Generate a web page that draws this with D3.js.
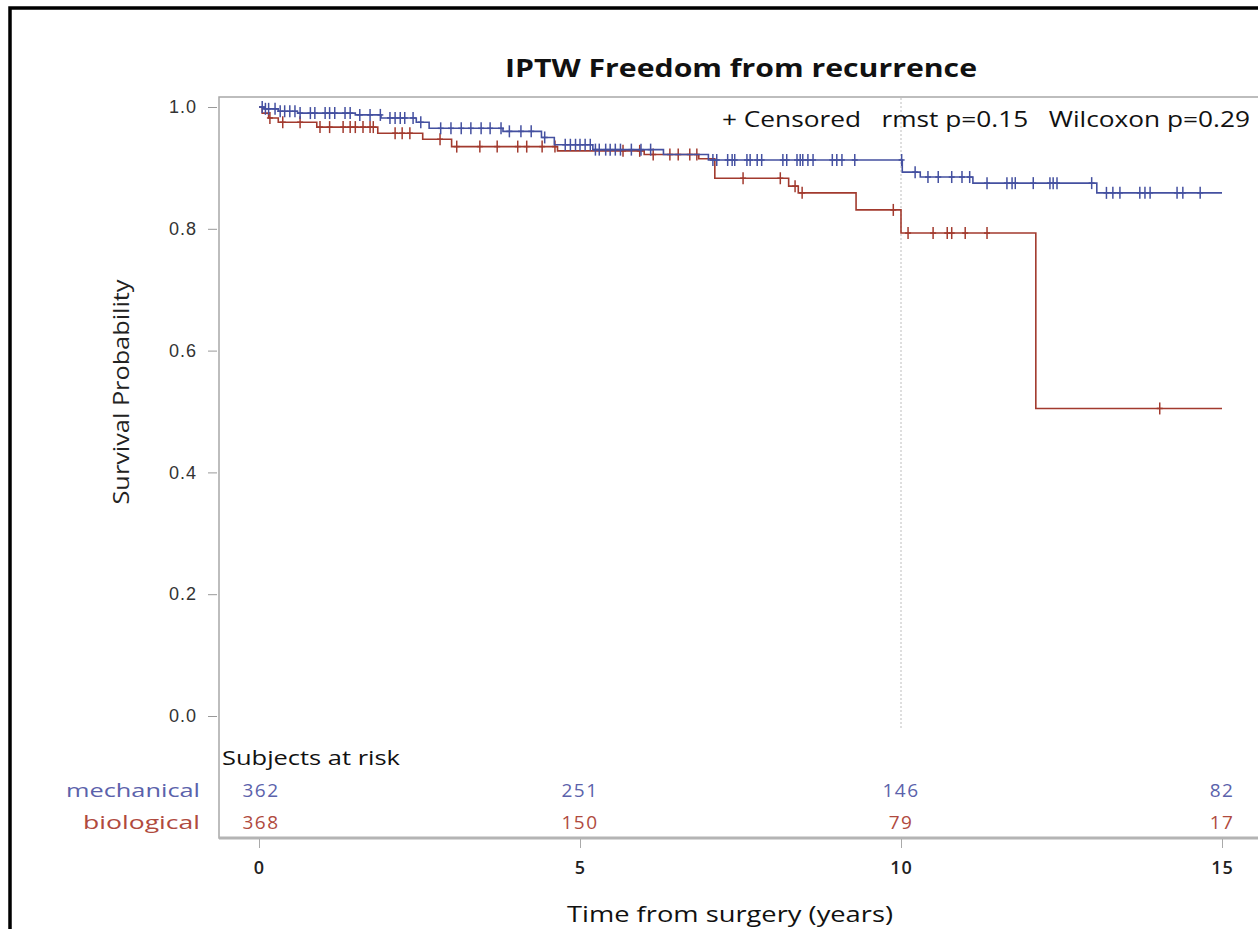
<!DOCTYPE html>
<html><head><meta charset="utf-8">
<script src="https://cdn.jsdelivr.net/npm/d3@7"></script>
<style>body{margin:0;background:#fff}svg{display:block}</style>
</head><body><svg id="c" width="1258" height="929"></svg>
<script>
// ---------- data ----------
const groups = ["mechanical", "biological"];
const xTicks = [0, 5, 10, 15];
const yTicks = [0.0, 0.2, 0.4, 0.6, 0.8, 1.0];
const atRiskMechanical = [362, 251, 146, 82];
const atRiskBiological = [368, 150, 79, 17];

const mechTimes = [0, 0.08, 0.3, 0.6, 1.5, 1.9, 2.45, 2.65, 3.8, 4.4, 4.6, 5.2, 6.3, 7.0, 10.02, 10.3, 11.12, 13.05, 15];
const mechSurv  = [1.0, 0.997, 0.993, 0.99, 0.987, 0.982, 0.975, 0.965, 0.96, 0.95, 0.938, 0.93, 0.922, 0.913, 0.893, 0.885, 0.875, 0.859, 0.859];
const mechCensor = [0.05,0.1,0.15,0.25,0.33,0.4,0.48,0.56,0.64,0.8,0.87,1.03,1.1,1.18,1.34,1.42,1.57,1.73,1.89,2.04,2.12,2.2,2.27,2.4,2.52,2.83,2.99,3.15,3.3,3.46,3.6,3.77,3.9,4.08,4.24,4.45,4.77,4.85,4.93,5.0,5.08,5.16,5.24,5.3,5.4,5.47,5.55,5.63,5.8,5.95,6.1,
  7.07,7.13,7.3,7.37,7.41,7.6,7.65,7.76,7.83,8.16,8.22,8.38,8.43,8.47,8.55,8.63,8.93,9.0,9.08,9.28,
  10.01,10.22,10.42,10.58,10.79,10.95,11.07,11.34,11.65,11.73,11.78,12.06,12.32,12.37,12.43,12.97,13.2,13.3,13.41,13.72,13.8,13.88,14.3,14.39,14.66];

const bioTimes = [0, 0.05, 0.15, 0.3, 0.9, 1.85, 2.55, 3.0, 4.65, 6.0, 6.85, 7.1, 8.25, 8.4, 9.3, 10.0, 12.1, 15];
const bioSurv  = [1.0, 0.99, 0.982, 0.975, 0.967, 0.957, 0.947, 0.935, 0.928, 0.922, 0.915, 0.883, 0.87, 0.859, 0.831, 0.793, 0.505, 0.505];
const bioCensor = [0.17,0.37,0.64,0.95,1.1,1.31,1.42,1.5,1.62,1.73,1.78,2.12,2.23,2.35,2.82,3.08,3.44,3.71,4.03,4.17,4.41,4.61,5.67,5.93,6.14,6.4,6.53,6.71,6.82,7.54,8.12,8.35,8.46,9.88,10.11,10.5,10.72,10.79,11.0,11.34,14.03];

const colors = {mechanical: "#4450a0", biological: "#A23A2E"};
const textColors = {mechanical: "#5b62ab", biological: "#b04a3e"};

// ---------- layout ----------
const svg = d3.select("#c");
const frame = {left: 219, top: 97, right: 1263, bottom: 838};
const x = d3.scaleLinear().domain([0, 15]).range([259, 1222]);
const y = d3.scaleLinear().domain([0, 1]).range([716, 107]);
const font = "'Liberation Sans', Arial, sans-serif";
const font2 = "'Open Sans', 'DejaVu Sans', sans-serif";

// outer border
svg.append("rect").attr("x", 10).attr("y", 8).attr("width", 1300).attr("height", 1000)
  .attr("fill", "none").attr("stroke", "#000").attr("stroke-width", 3.5);

// title
svg.append("text").attr("x", 741).attr("y", 77).attr("text-anchor", "middle")
  .attr("font-family", font2).attr("font-weight", "bold").attr("font-size", 25)
  .attr("textLength", 472).attr("lengthAdjust", "spacingAndGlyphs")
  .attr("fill", "#111").text("IPTW Freedom from recurrence");

// plot frame
svg.append("rect").attr("x", frame.left).attr("y", frame.top)
  .attr("width", frame.right - frame.left).attr("height", frame.bottom - frame.top)
  .attr("fill", "none").attr("stroke", "#a8a8a8").attr("stroke-width", 1.5);
svg.append("line").attr("x1", frame.left).attr("x2", frame.right)
  .attr("y1", frame.bottom).attr("y2", frame.bottom)
  .attr("stroke", "#b4b4b4").attr("stroke-width", 3);

// reference dotted line at t = 10
svg.append("line").attr("x1", x(10)).attr("x2", x(10)).attr("y1", frame.top + 1).attr("y2", 728)
  .attr("stroke", "#c8c8c8").attr("stroke-width", 1.2).attr("stroke-dasharray", "2,2");

// y axis
const yAxis = svg.append("g").attr("transform", `translate(${frame.left - 2},0)`)
  .call(d3.axisLeft(y).tickValues(yTicks).tickFormat(d3.format(".1f")).tickSize(9).tickPadding(11));
yAxis.select(".domain").remove();
yAxis.selectAll(".tick line").attr("stroke", "#999");
yAxis.selectAll(".tick text").attr("font-family", font).attr("font-size", 18)
  .attr("letter-spacing", 1).attr("fill", "#333");

svg.append("text").attr("transform", `translate(129,392) rotate(-90)`).attr("text-anchor", "middle")
  .attr("font-family", font2).attr("font-size", 21).attr("fill", "#222")
  .attr("textLength", 225).attr("lengthAdjust", "spacingAndGlyphs")
  .text("Survival Probability");

// x axis
const xAxis = svg.append("g").attr("transform", `translate(0,${frame.bottom + 1})`)
  .call(d3.axisBottom(x).tickValues(xTicks).tickFormat(d3.format("d")).tickSize(9).tickPadding(13));
xAxis.select(".domain").remove();
xAxis.selectAll(".tick line").attr("stroke", "#aaa");
xAxis.selectAll(".tick text").attr("font-family", font2).attr("font-weight", 600).attr("font-size", 18)
  .attr("letter-spacing", 1).attr("fill", "#222");

svg.append("text").attr("x", 730).attr("y", 922).attr("text-anchor", "middle")
  .attr("font-family", font2).attr("font-size", 22).attr("fill", "#111")
  .attr("textLength", 326).attr("lengthAdjust", "spacingAndGlyphs")
  .text("Time from surgery (years)");

// legend / stats
svg.append("text").attr("x", 1250).attr("y", 127).attr("text-anchor", "end")
  .attr("font-family", font2).attr("font-size", 22).attr("fill", "#111")
  .attr("xml:space", "preserve")
  .attr("textLength", 528).attr("lengthAdjust", "spacingAndGlyphs")
  .text("+ Censored   rmst p=0.15   Wilcoxon p=0.29");

// curves
const series = [
  {name: "mechanical", times: mechTimes, surv: mechSurv, censor: mechCensor},
  {name: "biological", times: bioTimes, surv: bioSurv, censor: bioCensor}
];
const line = d3.line().x(d => x(d[0])).y(d => y(d[1])).curve(d3.curveStepAfter);
function survAt(s, t) {
  let v = s.surv[0];
  for (let i = 0; i < s.times.length; i++) { if (s.times[i] <= t) v = s.surv[i]; }
  return v;
}
[series[1], series[0]].forEach(s => {
  const pts = s.times.map((t, i) => [t, s.surv[i]]);
  svg.append("path").attr("d", line(pts)).attr("fill", "none")
    .attr("stroke", colors[s.name]).attr("stroke-width", 1.6);
  const g = svg.append("g").attr("stroke", colors[s.name]).attr("stroke-width", 1.5);
  s.censor.forEach(t => {
    const cx = x(t), cy = y(survAt(s, t));
    g.append("line").attr("x1", cx).attr("x2", cx).attr("y1", cy - 6).attr("y2", cy + 6);
    g.append("line").attr("x1", cx - 3).attr("x2", cx + 3).attr("y1", cy).attr("y2", cy);
  });
});

// at-risk table
svg.append("text").attr("x", 222).attr("y", 765)
  .attr("font-family", font2).attr("font-size", 20).attr("fill", "#111")
  .attr("textLength", 178).attr("lengthAdjust", "spacingAndGlyphs")
  .text("Subjects at risk");
const rows = [
  {name: "mechanical", vals: atRiskMechanical, y: 797, w: 134},
  {name: "biological", vals: atRiskBiological, y: 829, w: 117}
];
rows.forEach(r => {
  svg.append("text").attr("x", 200).attr("y", r.y).attr("text-anchor", "end")
    .attr("font-family", font2).attr("font-size", 18).attr("fill", textColors[r.name])
    .attr("textLength", r.w).attr("lengthAdjust", "spacingAndGlyphs")
    .text(r.name);
  svg.selectAll(null).data(r.vals).enter().append("text")
    .attr("x", (d, i) => x(xTicks[i]) + (i === 0 ? 2 : 0)).attr("y", r.y).attr("text-anchor", "middle")
    .attr("font-family", font2).attr("font-size", 19).attr("letter-spacing", 1.5)
    .attr("fill", textColors[r.name])
    .text(d => d);
});
</script></body></html>
